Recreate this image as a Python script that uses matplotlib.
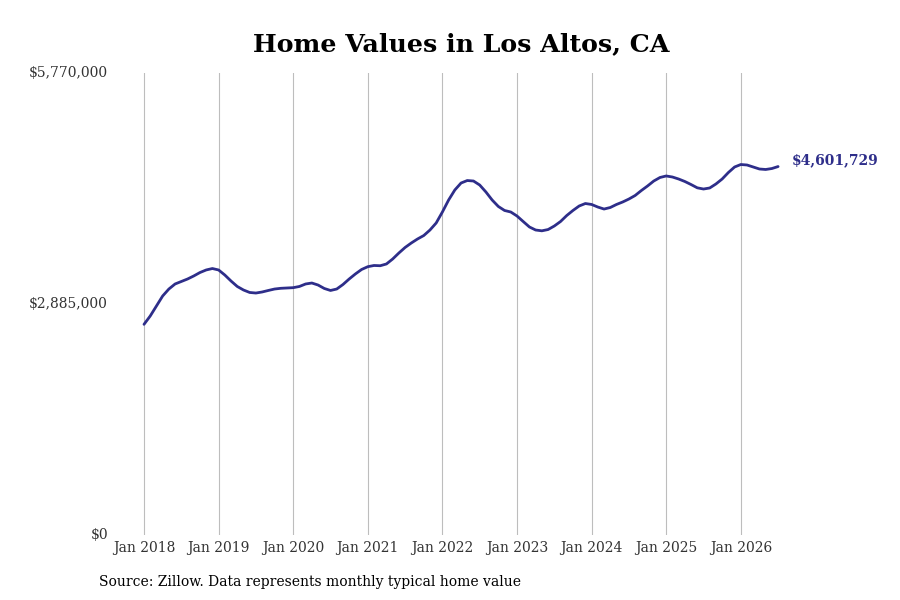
import matplotlib
matplotlib.use("Agg")
import matplotlib.pyplot as plt
import numpy as np

# monthly typical home value, Jan 2018 .. Jul 2026 (thousands of $)
start_year = 2018
values_k = [
    2631, 2735, 2860, 2985, 3072, 3135, 3166, 3197, 3235, 3278, 3310, 3328,  # 2018
    3310, 3247, 3172, 3104, 3060, 3029, 3022, 3035, 3054, 3072, 3081, 3085,  # 2019
    3089, 3104, 3135, 3147, 3122, 3079, 3054, 3072, 3128, 3197, 3260, 3316,  # 2020
    3351, 3366, 3363, 3385, 3447, 3522, 3591, 3647, 3697, 3740, 3809, 3897,  # 2021
    4034, 4184, 4309, 4396, 4427, 4421, 4371, 4284, 4184, 4103, 4053, 4034,  # 2022
    3984, 3915, 3847, 3809, 3799, 3815, 3859, 3915, 3990, 4053, 4109, 4140,  # 2023
    4128, 4096, 4071, 4090, 4128, 4159, 4196, 4240, 4302, 4359, 4421, 4465,  # 2024
    4484, 4471, 4446, 4415, 4377, 4336, 4321, 4334, 4384, 4446, 4527, 4596,  # 2025
    4627, 4621, 4596, 4571, 4565, 4577, 4601.729,                            # 2026
]
y_ticks = [0, 2885000, 5770000]
y_tick_labels = ["$0", "$2,885,000", "$5,770,000"]
x_tick_years = list(range(2018, 2027))
x_tick_labels = [f"Jan {y}" for y in x_tick_years]
last_label = "$4,601,729"

LINE = "#2e2e8a"

values = np.array(values_k) * 1000
months = start_year + np.arange(len(values)) / 12

fig = plt.figure(figsize=(9, 6), dpi=100)
ax = fig.add_axes([110 / 900, 65 / 600, 690 / 900, 462 / 600])

ax.plot(months, values, color=LINE, lw=2.0, solid_capstyle="round", clip_on=False)
ax.annotate(last_label, (months[-1], values[-1]), xytext=(10, 4.5), textcoords="offset points",
            color=LINE, fontsize=10, fontweight="bold", family="DejaVu Serif",
            va="center", ha="left", annotation_clip=False)

ax.set_xlim(2018 - 34 / 74.6, 2018 + 656 / 74.6)
ax.set_ylim(0, 5770000)
ax.set_xticks(x_tick_years)
ax.set_xticklabels(x_tick_labels)
ax.set_yticks(y_ticks)
ax.set_yticklabels(y_tick_labels)
ax.grid(axis="x", color="#bdbdbd", lw=0.8)
ax.tick_params(length=0, labelsize=10, colors="#333333", pad=4)
ax.tick_params(axis="y", pad=1.5)
for lab in ax.get_xticklabels() + ax.get_yticklabels():
    lab.set_family("DejaVu Serif")
for lab in ax.get_yticklabels():
    lab.set_verticalalignment("center")
for s in ax.spines.values():
    s.set_visible(False)

fig.text(461 / 900, 1 - 44 / 600, "Home Values in Los Altos, CA", ha="center", va="center",
         fontsize=18.2, fontweight="bold", family="DejaVu Serif", color="black")
fig.text(99 / 900, 1 - 582 / 600, "Source: Zillow. Data represents monthly typical home value",
         ha="left", va="center", fontsize=10, family="DejaVu Serif", color="black")

fig.savefig("out.png", dpi=100)
